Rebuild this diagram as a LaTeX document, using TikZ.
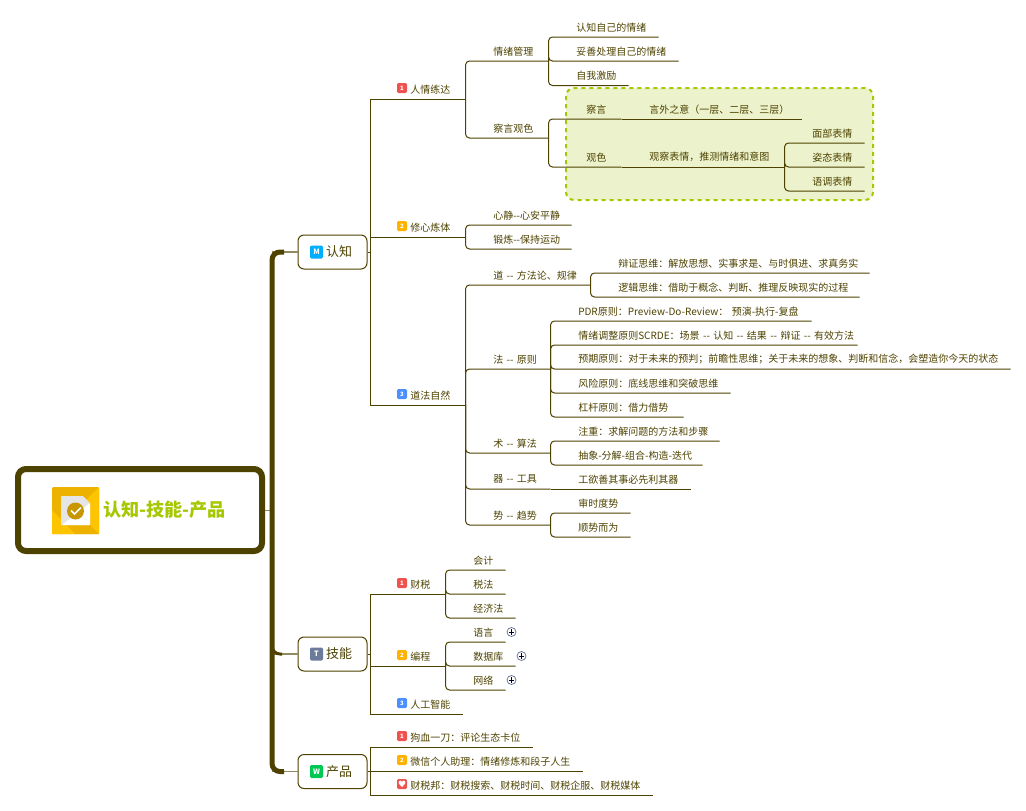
\documentclass[tikz,border=0pt]{standalone}
\usepackage{fontspec}
\setmainfont{Noto Sans CJK SC}
\usetikzlibrary{positioning}
\definecolor{olivedk}{HTML}{4D4200}
\definecolor{olivelt}{HTML}{8F8A60}
\definecolor{limefg}{HTML}{A5C800}
\definecolor{limebg}{HTML}{ECF3CC}
\definecolor{badgered}{HTML}{EF5350}
\definecolor{badgeorg}{HTML}{FFB300}
\definecolor{badgeblu}{HTML}{4A90FF}
\definecolor{badgecya}{HTML}{00AEFF}
\definecolor{badgeslt}{HTML}{6C7A9C}
\definecolor{badgegrn}{HTML}{00C853}
\definecolor{icongold}{HTML}{EDB200}
\definecolor{iconlite}{HTML}{FFC400}
\definecolor{icondark}{HTML}{C89600}
\tikzset{
    conn/.style={draw=olivedk,line width=0.75pt},
    tree/.style={conn,rounded corners=3pt},
    topic/.style={anchor=south west,inner sep=0pt,minimum height=19*0.75pt,text width=#1*0.75pt,align=left,text=olivedk,font=\fontsize{7.5pt}{9pt}\selectfont},
    mainbox/.style={draw=olivedk,line width=0.75pt,rounded corners=4.5pt,fill=white,minimum width=69*0.75pt,minimum height=34*0.75pt,inner sep=0pt,text=olivedk,font=\fontsize{9.75pt}{11pt}\selectfont},
    badge/.style={fill=#1,rounded corners=1pt,minimum size=10*0.75pt,inner sep=0pt,text=white,font=\fontsize{4.5pt}{5pt}\bfseries\selectfont},
    bigbadge/.style={fill=#1,rounded corners=1pt,minimum size=13*0.75pt,inner sep=0pt,text=white,font=\fontsize{5.5pt}{6pt}\bfseries\selectfont},
    plus/.style={circle,draw=badgeslt,fill=white,line width=0.6pt,minimum size=9*0.75pt,inner sep=0pt,
        path picture={\draw[black!80!blue,line width=0.5pt] ([yshift=2.2pt]path picture bounding box.center) -- ([yshift=-2.2pt]path picture bounding box.center) ([xshift=-2.2pt]path picture bounding box.center) -- ([xshift=2.2pt]path picture bounding box.center);}},
}
\begin{document}
\begin{tikzpicture}[x=0.75pt,y=-0.75pt]
    \useasboundingbox (0,0) rectangle (1026,811);
    % group behind the first branch
    \draw[draw=limefg,fill=limebg,line width=1.5pt,dashed,rounded corners=6pt] (566,88) rectangle (873,200);
    % root and main topics
    \node[draw=olivedk,line width=4.5pt,rounded corners=6pt,fill=white,minimum width=244*0.75pt,minimum height=82*0.75pt,inner sep=0pt,text=limefg,font=\fontsize{13.6pt}{15pt}\bfseries\selectfont] (root) at (140,510) {\hspace{36.75pt}\raisebox{-1pt}{认知-技能-产品}};
    \node[mainbox] (cog) at (332.5,252) {\hspace{10pt}\raisebox{-1pt}{认知}};
    \node[mainbox] (skill) at (332.5,654) {\hspace{10pt}\raisebox{-1pt}{技能}};
    \node[mainbox] (prod) at (332.5,771.5) {\hspace{10pt}\raisebox{-0.75pt}{产品}};
    \node[bigbadge=badgecya] (cogi) at (316.5,252) {M};
    \node[bigbadge=badgeslt] (skilli) at (316.5,654) {T};
    \node[bigbadge=badgegrn] (prodi) at (316.5,771.5) {W};
    % root icon
    \fill[rounded corners=1pt,fill=icongold] (52,487) rectangle (99,534);
    \fill[fill=iconlite] (99,487) -- (99,534) -- (75,511) -- cycle;
    \fill[fill=icongold] (99,534) -- (75,534) -- (62,525) -- (90,525) -- cycle;
    \fill[fill=iconlite] (52,534) -- (52,510) -- (75,534) -- cycle;
    \fill[fill=black!10,rounded corners=0.5pt] (61,496) -- (83,496) -- (90,503) -- (90,525) -- (61,525) -- cycle;
    \fill[fill=white,rounded corners=0.5pt] (90,503) -- (90,525) -- (62,525) -- cycle;
    \fill[fill=icondark] (75.5,511) circle (8.5);
    \draw[white,line width=1.2pt] (71,510.5) -- (74.5,514) -- (81,507.5);
    % first branch
    \node[topic=55] (renq) at (410,99) {人情练达};
    \node[topic=55] (xiuxin) at (410,237) {修心炼体};
    \node[topic=55] (daofa) at (410,405) {道法自然};
    \node[badge=badgered] (renqi) at (402,88) {1};
    \node[badge=badgeorg] (xiuxini) at (402,226) {2};
    \node[badge=badgeblu] (daofai) at (402,394) {3};
    \node[topic=55] (qingxu) at (493,61) {情绪管理};
    \node[topic=55] (chayan) at (493,138) {察言观色};
    \node[topic=82] (rz) at (576,37) {认知自己的情绪};
    \node[topic=102] (tuo) at (576,61) {妥善处理自己的情绪};
    \node[topic=52] (jili) at (576,85.5) {自我激励};
    \node[topic=35] (cha) at (586,119) {察言};
    \node[topic=152] (yan) at (649,119) {言外之意（一层、二层、三层）};
    \node[topic=35] (guan) at (586,167) {观色};
    \node[topic=135] (tuice) at (649,167) {观察表情，推测情绪和意图};
    \node[topic=52] (mian) at (812,143) {面部表情};
    \node[topic=52] (zi) at (812,167) {姿态表情};
    \node[topic=52] (yu) at (812,191) {语调表情};
    \node[topic=78] (xinj) at (493,225) {心静-{}-心安平静};
    \node[topic=78] (duan) at (493,249) {锻炼-{}-保持运动};
    \node[topic=97] (dao) at (493,285) {道 -{}- 方法论、规律};
    \node[topic=57] (fa) at (493,369) {法 -{}- 原则};
    \node[topic=57] (shu) at (493,453) {术 -{}- 算法};
    \node[topic=57] (qi) at (493,489) {器 -{}- 工具};
    \node[topic=57] (shi) at (493,525) {势 -{}- 趋势};
    \node[topic=251] (bian) at (618,273) {辩证思维：解放思想、实事求是、与时俱进、求真务实};
    \node[topic=241] (luoji) at (618,297) {逻辑思维：借助于概念、判断、推理反映现实的过程};
    \node[topic=233] (pdr) at (578,321) {PDR原则：Preview-Do-Review： 预演-执行-复盘};
    \node[topic=279] (scrde) at (578,345) {情绪调整原则SCRDE：场景 -{}- 认知 -{}- 结果 -{}- 辩证 -{}- 有效方法};
    \node[topic=432] (yuqi) at (578,369) {预期原则：对于未来的预判；前瞻性思维；关于未来的想象、判断和信念，会塑造你今天的状态};
    \node[topic=152] (fengx) at (578,393) {风险原则：底线思维和突破思维};
    \node[topic=105] (gang) at (578,417) {杠杆原则：借力借势};
    \node[topic=141] (zhu) at (578,441) {注重：求解问题的方法和步骤};
    \node[topic=124] (chou) at (578,465) {抽象-分解-组合-构造-迭代};
    \node[topic=112] (gong) at (578,489) {工欲善其事必先利其器};
    \node[topic=52] (shen) at (578,513) {审时度势};
    \node[topic=52] (shun) at (578,537) {顺势而为};
    % second branch
    \node[topic=35] (cai) at (410,594) {财税};
    \node[topic=35] (bianc) at (410,666) {编程};
    \node[topic=52] (ai) at (410,714) {人工智能};
    \node[badge=badgered] (caii) at (402,583) {1};
    \node[badge=badgeorg] (bianci) at (402,655) {2};
    \node[badge=badgeblu] (aii) at (402,703) {3};
    \node[topic=32] (kuai) at (473,570) {会计};
    \node[topic=32] (shuif) at (473,594) {税法};
    \node[topic=42] (jing) at (473,618) {经济法};
    \node[topic=32] (yuy) at (473,642) {语言};
    \node[topic=42] (shuj) at (473,666) {数据库};
    \node[topic=32] (wang) at (473,690) {网络};
    \node[plus] (yuyp) at (511.5,632) {};
    \node[plus] (shujp) at (521.5,656) {};
    \node[plus] (wangp) at (511.5,680) {};
    % third branch
    \node[topic=122] (gou) at (410,747) {狗血一刀：评论生态卡位};
    \node[topic=172] (wei) at (410,771) {微信个人助理：情绪修炼和段子人生};
    \node[topic=242] (bang) at (410,795) {财税邦：财税搜索、财税时间、财税企服、财税媒体};
    \node[badge=badgered] (goui) at (402,736) {1};
    \node[badge=badgeorg] (weii) at (402,760) {2};
    \node[badge=badgered] (bangi) at (402,784) {\fontsize{6pt}{6pt}\selectfont ♥};
    % trunk
    \draw[draw=olivelt,line width=0.75pt] (root.east) -- (272,510);
    \draw[draw=olivelt,line width=1pt] (272,252) -- (cog.west);
    \draw[draw=olivelt,line width=1pt] (272,654) -- (skill.west);
    \draw[draw=olivelt,line width=1pt] (272,771.5) -- (prod.west);
    \draw[draw=olivedk,line width=3.75pt,rounded corners=6pt] (284,252) -- (272,252) -- (272,771.5) -- (284,771.5);
    \draw[draw=olivedk,line width=2.25pt,rounded corners=6pt] (272,640) |- (282,654);
    % connectors
    \draw[conn] (cog.east) -- ++(3,0) |- (renq.south east);
    \draw[conn] (cog.east) -- ++(3,0) |- (xiuxin.south east);
    \draw[conn] (cog.east) -- ++(3,0) |- (daofa.south east);
    \draw[tree] (renq.south east) |- (qingxu.south east);
    \draw[tree] (renq.south east) |- (chayan.south east);
    \draw[tree] (qingxu.south east) |- (rz.south east);
    \draw[tree] (qingxu.south east) |- (tuo.south east);
    \draw[tree] (qingxu.south east) |- (jili.south east);
    \draw[tree] (chayan.south east) |- (cha.south east);
    \draw[tree] (chayan.south east) |- (guan.south east);
    \draw[conn] (cha.south east) -- (yan.south east);
    \draw[conn] (guan.south east) -- (tuice.south east);
    \draw[tree] (tuice.south east) |- (mian.south east);
    \draw[tree] (tuice.south east) |- (zi.south east);
    \draw[tree] (tuice.south east) |- (yu.south east);
    \draw[tree] (xiuxin.south east) |- (xinj.south east);
    \draw[tree] (xiuxin.south east) |- (duan.south east);
    \draw[tree] (daofa.south east) |- (dao.south east);
    \draw[tree] (daofa.south east) |- (fa.south east);
    \draw[tree] (daofa.south east) |- (shu.south east);
    \draw[tree] (daofa.south east) |- (qi.south east);
    \draw[tree] (daofa.south east) |- (shi.south east);
    \draw[tree] (dao.south east) |- (bian.south east);
    \draw[tree] (dao.south east) |- (luoji.south east);
    \draw[tree] (fa.south east) |- (pdr.south east);
    \draw[tree] (fa.south east) |- (scrde.south east);
    \draw[tree] (fa.south east) |- (yuqi.south east);
    \draw[tree] (fa.south east) |- (fengx.south east);
    \draw[tree] (fa.south east) |- (gang.south east);
    \draw[tree] (shu.south east) |- (zhu.south east);
    \draw[tree] (shu.south east) |- (chou.south east);
    \draw[conn] (qi.south east) -- (gong.south east);
    \draw[tree] (shi.south east) |- (shen.south east);
    \draw[tree] (shi.south east) |- (shun.south east);
    \draw[conn] (skill.east) -- ++(3,0) |- (cai.south east);
    \draw[conn] (skill.east) -- ++(3,0) |- (bianc.south east);
    \draw[conn] (skill.east) -- ++(3,0) |- (ai.south east);
    \draw[tree] (cai.south east) |- (kuai.south east);
    \draw[tree] (cai.south east) |- (shuif.south east);
    \draw[tree] (cai.south east) |- (jing.south east);
    \draw[tree] (bianc.south east) |- (yuy.south east);
    \draw[tree] (bianc.south east) |- (shuj.south east);
    \draw[tree] (bianc.south east) |- (wang.south east);
    \draw[conn] (prod.east) -- ++(3,0) |- (gou.south east);
    \draw[conn] (prod.east) -- ++(3,0) |- (wei.south east);
    \draw[conn] (prod.east) -- ++(3,0) |- (bang.south east);
\end{tikzpicture}
\end{document}
